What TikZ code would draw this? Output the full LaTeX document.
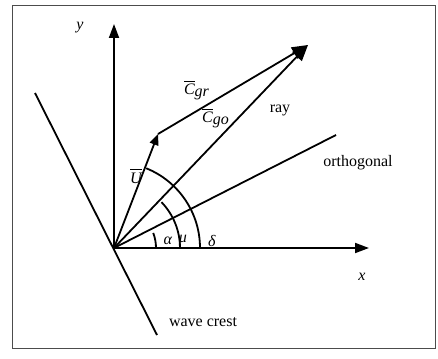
\documentclass[tikz,border=0pt]{standalone}
\usepackage{fontspec}
\setmainfont{Liberation Serif}
\usetikzlibrary{arrows.meta}

\begin{document}
\begin{tikzpicture}[x=0.5pt,y=-0.5pt,line width=0.9pt,
  vec/.style={-{Triangle[length=7pt,width=5pt]}},
  lbl/.style={font=\fontsize{8}{9}\selectfont,inner sep=1pt}]
\useasboundingbox (0,0) rectangle (438,358);
\draw[line width=0.4pt,black!70] (12,5) rectangle (435,348);

\coordinate (o) at (114,248);
\coordinate (xend) at (369,248);
\coordinate (yend) at (114,24);
\coordinate (u) at (158,134);
\coordinate (c) at (308,45);
\coordinate (orth) at (336,135);
\coordinate (crestA) at (35,93);
\coordinate (crestB) at (157,335);

\draw[vec] (o) -- (xend);
\draw[vec] (o) -- (yend);
\draw[-{Triangle[length=5.5pt,width=4.5pt]}] (o) -- (u);
\draw[-{Triangle[length=8pt,width=6.5pt]}] (u) -- (c);
\draw[-{Triangle[length=8pt,width=6.5pt]}] (o) -- (c);
\draw (o) -- (orth);
\draw (crestA) -- (crestB);

% angles
\draw ([xshift=21pt]o) arc[start angle=0,end angle=-21,radius=42];
\draw ([xshift=33pt]o) arc[start angle=0,end angle=-44,radius=66];
\draw ([xshift=43pt]o) arc[start angle=0,end angle=-68,radius=86];

\node[lbl] (ly) at (80,28) {\textit{y}};
\node[lbl] (lx) at (362,277) {\textit{x}};
\node[lbl] (lu) at (136,176) {$\overline{\textit{U}}$};
\node[lbl] (lcgr) at (197,90) {$\overline{\textit{C}}_{\textit{gr}}$};
\node[lbl] (lcgo) at (216,118) {$\overline{\textit{C}}_{\textit{go}}$};
\node[lbl] (lray) at (280,110) {ray};
\node[lbl] (lorth) at (358,163) {orthogonal};
\node[lbl] (lcrest) at (203,322) {wave crest};
\node[lbl] (la) at (168,241) {\textit{α}};
\node[lbl] (lm) at (183,241) {\textit{μ}};
\node[lbl] (ld) at (212,241) {\textit{δ}};
\end{tikzpicture}
\end{document}
